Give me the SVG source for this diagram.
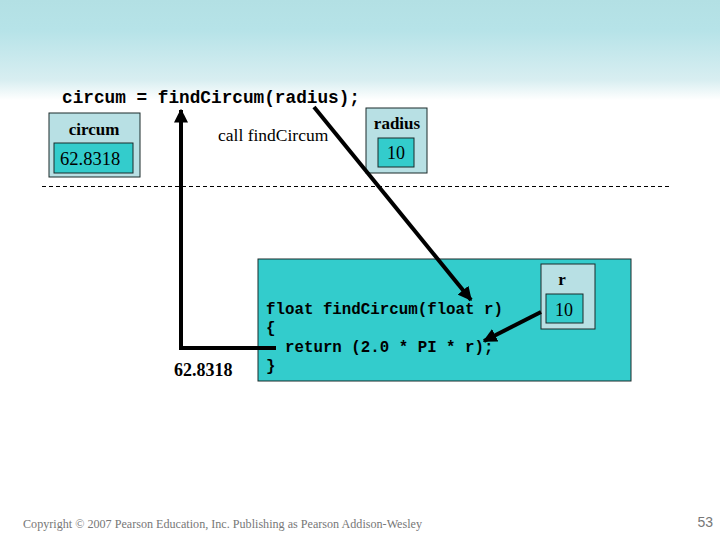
<svg xmlns="http://www.w3.org/2000/svg" width="720" height="540" viewBox="0 0 720 540">
<defs>
<linearGradient id="bg" x1="0" y1="0" x2="0" y2="1">
<stop offset="0" stop-color="#b3e0e4"/>
<stop offset="0.3" stop-color="#b6e3e8"/>
<stop offset="0.8" stop-color="#d8eef1"/>
<stop offset="1" stop-color="#ffffff"/>
</linearGradient>
<marker id="ah" viewBox="0 0 10 10" refX="9" refY="5" markerWidth="3.5" markerHeight="3.5" orient="auto" markerUnits="strokeWidth">
<path d="M0,0 L10,5 L0,10 z" fill="#000"/>
</marker>
<style>
.code{font-family:"Liberation Mono","Courier New",monospace;font-weight:bold;fill:#000}
.ser{font-family:"Liberation Serif","Times New Roman",serif;fill:#000}
.b{font-weight:bold}
.outer{fill:#b8e0e4;stroke:#1a2a2a;stroke-width:1}
.inner{fill:#33cccc;stroke:#1a2a2a;stroke-width:1}
.conn{fill:none;stroke:#000;stroke-width:4}
</style>
</defs>
<rect x="0" y="0" width="720" height="540" fill="#fff"/>
<rect x="0" y="0" width="720" height="100" fill="url(#bg)"/>

<text class="code" x="62" y="103" font-size="17.8" textLength="298" lengthAdjust="spacingAndGlyphs">circum = findCircum(radius);</text>

<g id="circum">
<rect class="outer" x="49" y="113" width="91" height="64"/>
<rect class="inner" x="54" y="143" width="79" height="30"/>
<text class="ser b" x="94" y="135" font-size="17" text-anchor="middle">circum</text>
<text class="ser" x="60" y="165" font-size="18.5">62.8318</text>
</g>

<text id="call-label" class="ser" x="218" y="141" font-size="17.5">call findCircum</text>

<g id="radius">
<rect class="outer" x="366" y="108" width="61" height="65"/>
<rect class="inner" x="378" y="138" width="36" height="29"/>
<text class="ser b" x="397" y="129" font-size="17" text-anchor="middle">radius</text>
<text class="ser" x="396" y="159" font-size="18" text-anchor="middle">10</text>
</g>

<line x1="42" y1="186.5" x2="670" y2="186.5" stroke="#000" stroke-width="1" stroke-dasharray="4,3"/>

<g id="function">
<rect class="inner" x="258" y="259" width="373" height="122"/>
<g class="code" font-size="15.8">
<text x="266" y="314" textLength="237" lengthAdjust="spacingAndGlyphs">float findCircum(float r)</text>
<text x="266" y="333">{</text>
<text x="266" y="352" xml:space="preserve">  return (2.0 * PI * r);</text>
<text x="266" y="371">}</text>
</g>
</g>

<g id="r">
<rect class="outer" x="541" y="264" width="54" height="65"/>
<rect class="inner" x="546" y="294" width="37" height="29"/>
<text class="ser b" x="562" y="285" font-size="17" text-anchor="middle">r</text>
<text class="ser" x="564" y="316" font-size="18" text-anchor="middle">10</text>
</g>

<text id="result" class="ser b" x="174" y="376" font-size="18">62.8318</text>

<g id="connectors">
<path class="conn" d="M276,348 L181,348 L181,110" marker-end="url(#ah)"/>
<line class="conn" x1="314" y1="107" x2="471" y2="300" marker-end="url(#ah)"/>
<line class="conn" x1="541" y1="312" x2="484" y2="341" marker-end="url(#ah)"/>
</g>

<text class="ser" x="23" y="528" font-size="12.5" style="fill:#777" textLength="399" lengthAdjust="spacingAndGlyphs">Copyright © 2007 Pearson Education, Inc. Publishing as Pearson Addison-Wesley</text>
<text x="713" y="527" font-size="14" text-anchor="end" style="font-family:'Liberation Sans',Arial,sans-serif;fill:#777">53</text>
</svg>
